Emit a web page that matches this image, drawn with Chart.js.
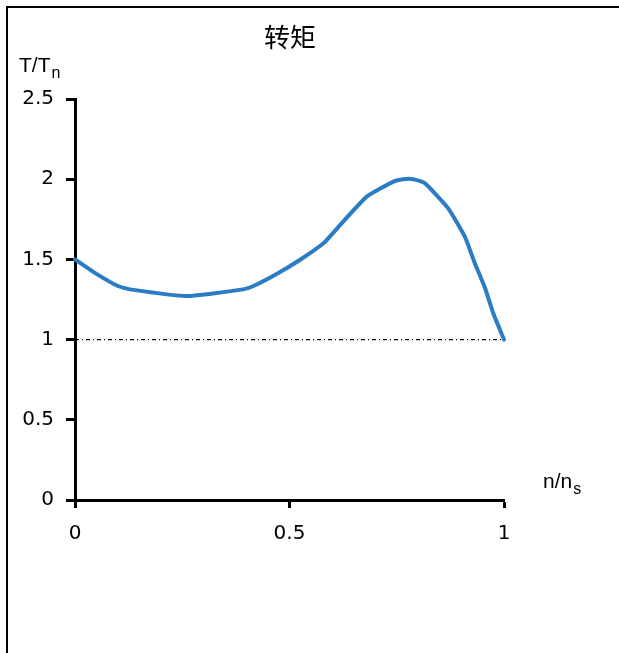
<!DOCTYPE html>
<html>
<head>
<meta charset="utf-8">
<script src="https://cdn.jsdelivr.net/npm/chart.js@4"></script>
<style>
  body { margin: 0; background: #fff; }
  #wrap { position: relative; width: 619px; height: 653px; }
  #frame { position: absolute; left: 6px; top: 6px; right: 0; bottom: 0; border-top: 2px solid #000; border-left: 2px solid #000; pointer-events: none; }
</style>
</head>
<body>
<div id="wrap">
  <canvas id="chart" width="619" height="653"></canvas>
  <div id="frame"></div>
</div>
<script>
// speed ratio n/ns vs torque ratio T/Tn
const nRatio = [0, 0.05, 0.1, 0.128, 0.26, 0.392, 0.416, 0.47, 0.524, 0.579, 0.625, 0.68, 0.742, 0.765, 0.789, 0.816, 0.87, 0.909, 0.932, 0.956, 0.975, 1];
const torque = [1.5, 1.41, 1.334, 1.313, 1.272, 1.313, 1.334, 1.409, 1.496, 1.6, 1.735, 1.891, 1.985, 2.0, 2.0, 1.974, 1.818, 1.64, 1.476, 1.32, 1.164, 1];
const refX = [0, 1];
const refY = [1, 1];

const chartTitle = '转矩';
const yTitle = ['T/T', 'n'];
const xTitle = ['n/n', 's'];

const labelsPlugin = {
  id: 'labels',
  afterDraw(chart) {
    const ctx = chart.ctx;
    ctx.save();
    ctx.fillStyle = '#000';
    ctx.textBaseline = 'alphabetic';
    // title
    ctx.font = '26px "Noto Sans CJK SC"';
    ctx.textAlign = 'center';
    ctx.fillText(chartTitle, 290, 47);
    // axis titles with subscripts
    const drawSub = (parts, x, y) => {
      ctx.textAlign = 'left';
      ctx.font = '21px "Liberation Sans"';
      ctx.fillText(parts[0], x, y);
      const w = ctx.measureText(parts[0]).width;
      ctx.font = '16px "Liberation Sans"';
      ctx.fillText(parts[1], x + w + 1, y + 6);
    };
    drawSub(yTitle, 19, 72);
    drawSub(xTitle, 543, 488);
    ctx.restore();
  }
};

const fmt = (v) => String(+v.toFixed(2));

new Chart(document.getElementById('chart').getContext('2d'), {
  type: 'line',
  data: {
    datasets: [
      {
        label: 'ref',
        data: refX.map((xi, i) => ({ x: xi, y: refY[i] })),
        borderColor: '#000',
        borderWidth: 1.2,
        borderDash: [4, 3, 1, 3],
        pointRadius: 0,
        fill: false
      },
      {
        label: chartTitle,
        data: nRatio.map((xi, i) => ({ x: xi, y: torque[i] })),
        borderColor: '#2a7cc4',
        borderWidth: 4,
        borderCapStyle: 'round',
        borderJoinStyle: 'round',
        tension: 0.15,
        pointRadius: 0,
        clip: false,
        fill: false
      }
    ]
  },
  options: {
    responsive: false,
    animation: false,
    layout: { padding: { left: 0, top: 99, right: 115, bottom: 103 } },
    plugins: { legend: { display: false }, tooltip: { enabled: false } },
    scales: {
      x: {
        type: 'linear',
        min: 0,
        max: 1,
        afterFit: (s) => { s.height = 50; },
        border: { color: '#000', width: 3 },
        grid: { drawOnChartArea: false, drawTicks: true, tickLength: 8, tickColor: '#000', tickWidth: 3 },
        ticks: { stepSize: 0.5, color: '#000', padding: 14, maxRotation: 0, callback: fmt, font: { family: 'DejaVu Sans', size: 20 } }
      },
      y: {
        type: 'linear',
        min: 0,
        max: 2.5,
        afterFit: (s) => { s.width = 75; },
        border: { color: '#000', width: 3 },
        grid: { drawOnChartArea: false, drawTicks: true, tickLength: 9, tickColor: '#000', tickWidth: 3 },
        ticks: { stepSize: 0.5, color: '#000', padding: 12, callback: fmt, font: { family: 'DejaVu Sans', size: 20 } }
      }
    }
  },
  plugins: [labelsPlugin]
});
</script>
</body>
</html>
